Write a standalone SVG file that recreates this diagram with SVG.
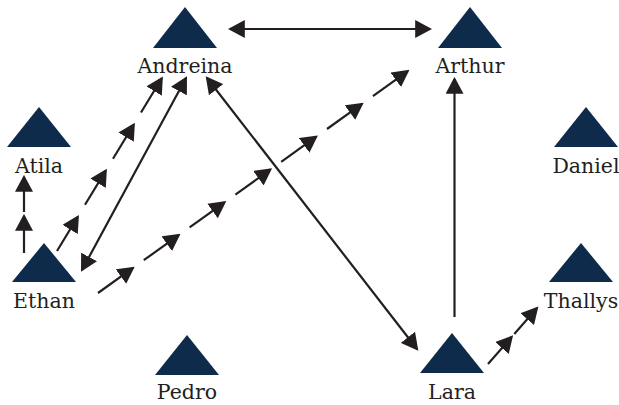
<svg xmlns="http://www.w3.org/2000/svg" width="619" height="405" viewBox="0 0 619 405">
<defs>
<style>
.tri{fill:#0f2b4c}
.lbl{font-family:"DejaVu Serif",serif;font-size:20.5px;fill:#231f20;text-anchor:middle}
.e{stroke:#231f20;stroke-width:2.2;fill:none;marker-end:url(#ah)}
.b{marker-start:url(#ah)}
</style>
<marker id="ah" markerUnits="userSpaceOnUse" markerWidth="17" markerHeight="18" viewBox="0 0 16 17" refX="14" refY="8.5" orient="auto-start-reverse">
<path d="M0,0 L16,8.5 L0,17 Z" fill="#231f20"/>
</marker>
</defs>
<rect width="619" height="405" fill="#ffffff"/>
<g id="connectors">
<line class="e b" x1="230" y1="29" x2="430" y2="29"/>
<line class="e" x1="454.5" y1="317" x2="454.5" y2="79"/>
<line class="e b" x1="207" y1="78" x2="417" y2="349"/>
<line class="e b" x1="82" y1="270" x2="186" y2="78"/>
<line class="e" x1="57" y1="251" x2="77.8" y2="216.8"/>
<line class="e" x1="85" y1="204.8" x2="105.8" y2="170.6"/>
<line class="e" x1="113" y1="158.7" x2="133.8" y2="124.5"/>
<line class="e" x1="141" y1="112.5" x2="161.8" y2="78.3"/>
<line class="e" x1="98" y1="293" x2="133" y2="267.9"/>
<line class="e" x1="143.8" y1="260.2" x2="178.8" y2="235.1"/>
<line class="e" x1="189.6" y1="227.4" x2="224.6" y2="202.3"/>
<line class="e" x1="235.4" y1="194.6" x2="270.4" y2="169.5"/>
<line class="e" x1="281.2" y1="161.8" x2="316.2" y2="136.7"/>
<line class="e" x1="327" y1="129" x2="362" y2="103.9"/>
<line class="e" x1="372.9" y1="96.2" x2="407.8" y2="71.1"/>
<line class="e" x1="24" y1="253" x2="24" y2="216"/>
<line class="e" x1="24" y1="212" x2="24" y2="177"/>
<line class="e" x1="488" y1="364" x2="511.7" y2="336.9"/>
<line class="e" x1="514.3" y1="333.9" x2="537" y2="308"/>
</g>
<g id="andreina"><polygon class="tri" points="185,7 217,48 153,48"/><text class="lbl" x="185" y="73">Andreina</text></g>
<g id="arthur"><polygon class="tri" points="470,7 502,48 438,48"/><text class="lbl" x="470" y="73">Arthur</text></g>
<g id="atila"><polygon class="tri" points="39,107 71,147 7,147"/><text class="lbl" x="39" y="173">Atila</text></g>
<g id="daniel"><polygon class="tri" points="586,107 618,147 554,147"/><text class="lbl" x="586" y="173">Daniel</text></g>
<g id="ethan"><polygon class="tri" points="44,243 76,282 12,282"/><text class="lbl" x="44" y="308">Ethan</text></g>
<g id="thallys"><polygon class="tri" points="581,243 613,282 549,282"/><text class="lbl" x="581" y="308">Thallys</text></g>
<g id="pedro"><polygon class="tri" points="187,335 219,375 155,375"/><text class="lbl" x="187" y="399">Pedro</text></g>
<g id="lara"><polygon class="tri" points="452,333 484,373 420,373"/><text class="lbl" x="452" y="399">Lara</text></g>
</svg>
